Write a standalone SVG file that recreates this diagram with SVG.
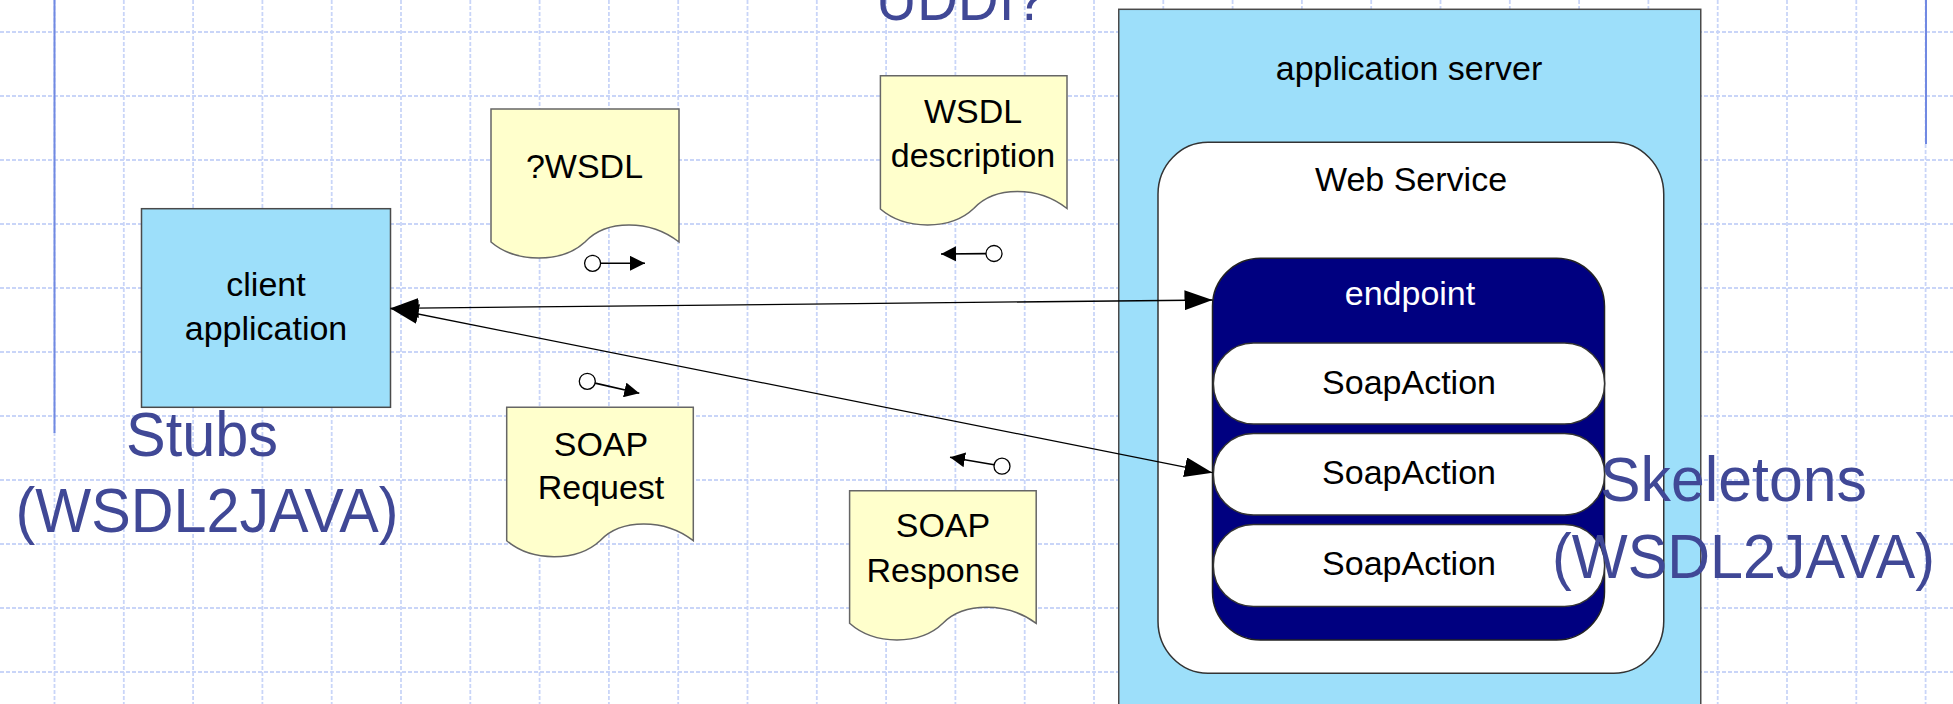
<svg xmlns="http://www.w3.org/2000/svg" width="1953" height="704" viewBox="0 0 1953 704">
<defs>
<style>
.grid line{stroke:#c9d5f8;stroke-width:1.8;stroke-dasharray:4 2}
.rail{stroke:#7189e2;stroke-width:2}
.box{fill:#9ddffa;stroke:#4a4a4a;stroke-width:1.5}
.white{fill:#ffffff;stroke:#333333;stroke-width:1.5}
.navy{fill:#000080;stroke:#222222;stroke-width:1.5}
.doc{fill:#ffffcc;stroke:#666666;stroke-width:1.5}
.lbl{font-family:"Liberation Sans",Arial,sans-serif;font-size:34px;fill:#000000;text-anchor:middle}
.wlbl{font-family:"Liberation Sans",Arial,sans-serif;font-size:34px;fill:#ffffff;text-anchor:middle}
.big{font-family:"Liberation Sans",Arial,sans-serif;font-size:63px;fill:#404896}
.conn{stroke:#000000;stroke-width:1.3;fill:none}
.flow{stroke:#000000;stroke-width:1.6;fill:none}
.dot{fill:#ffffff;stroke:#000000;stroke-width:1.3}
</style>
<marker id="arrBig" markerUnits="userSpaceOnUse" markerWidth="28" markerHeight="20" refX="28" refY="10" orient="auto-start-reverse" viewBox="0 0 28 20">
<path d="M0,0 L28,10 L0,20 Z" fill="#000000"/>
</marker>
<marker id="arrSmall" markerUnits="userSpaceOnUse" markerWidth="15" markerHeight="15" refX="15" refY="7.5" orient="auto" viewBox="0 0 15 15">
<path d="M0,0 L15,7.5 L0,15 Z" fill="#000000"/>
</marker>
</defs>
<rect x="0" y="0" width="1953" height="704" fill="#ffffff"/>
<g id="grid" class="grid">
<line x1="0" y1="32" x2="1953" y2="32"/>
<line x1="0" y1="96" x2="1953" y2="96"/>
<line x1="0" y1="160" x2="1953" y2="160"/>
<line x1="0" y1="224" x2="1953" y2="224"/>
<line x1="0" y1="288" x2="1953" y2="288"/>
<line x1="0" y1="352" x2="1953" y2="352"/>
<line x1="0" y1="416" x2="1953" y2="416"/>
<line x1="0" y1="480" x2="1953" y2="480"/>
<line x1="0" y1="544" x2="1953" y2="544"/>
<line x1="0" y1="608" x2="1953" y2="608"/>
<line x1="0" y1="672" x2="1953" y2="672"/>
<line x1="54.5" y1="0" x2="54.5" y2="704"/>
<line x1="123.8" y1="0" x2="123.8" y2="704"/>
<line x1="193.1" y1="0" x2="193.1" y2="704"/>
<line x1="262.4" y1="0" x2="262.4" y2="704"/>
<line x1="331.7" y1="0" x2="331.7" y2="704"/>
<line x1="401" y1="0" x2="401" y2="704"/>
<line x1="470.3" y1="0" x2="470.3" y2="704"/>
<line x1="539.6" y1="0" x2="539.6" y2="704"/>
<line x1="608.9" y1="0" x2="608.9" y2="704"/>
<line x1="678.2" y1="0" x2="678.2" y2="704"/>
<line x1="747.5" y1="0" x2="747.5" y2="704"/>
<line x1="816.8" y1="0" x2="816.8" y2="704"/>
<line x1="886.1" y1="0" x2="886.1" y2="704"/>
<line x1="955.4" y1="0" x2="955.4" y2="704"/>
<line x1="1024.7" y1="0" x2="1024.7" y2="704"/>
<line x1="1094" y1="0" x2="1094" y2="704"/>
<line x1="1163.3" y1="0" x2="1163.3" y2="704"/>
<line x1="1232.6" y1="0" x2="1232.6" y2="704"/>
<line x1="1301.9" y1="0" x2="1301.9" y2="704"/>
<line x1="1371.2" y1="0" x2="1371.2" y2="704"/>
<line x1="1440.5" y1="0" x2="1440.5" y2="704"/>
<line x1="1509.8" y1="0" x2="1509.8" y2="704"/>
<line x1="1579.1" y1="0" x2="1579.1" y2="704"/>
<line x1="1648.4" y1="0" x2="1648.4" y2="704"/>
<line x1="1717.7" y1="0" x2="1717.7" y2="704"/>
<line x1="1787" y1="0" x2="1787" y2="704"/>
<line x1="1856.3" y1="0" x2="1856.3" y2="704"/>
<line x1="1925.6" y1="0" x2="1925.6" y2="704"/>
</g>
<line class="rail" x1="54.5" y1="0" x2="54.5" y2="433"/>
<line class="rail" x1="1926" y1="0" x2="1926" y2="144"/>

<g id="app-server">
<rect class="box" x="1118.75" y="9.3" width="582" height="720"/>
<text class="lbl" x="1409" y="80">application server</text>
</g>
<g id="web-service">
<rect class="white" x="1158" y="142.3" width="505.75" height="531" rx="50" ry="52"/>
<text class="lbl" x="1411" y="190.7">Web Service</text>
</g>
<g id="endpoint">
<rect class="navy" x="1212.5" y="258.3" width="392" height="381.7" rx="48" ry="48"/>
<text class="wlbl" x="1410" y="305">endpoint</text>
</g>
<g id="soapaction-1">
<rect class="white" x="1213.4" y="343" width="391.2" height="81" rx="40" ry="40"/>
<text class="lbl" x="1409" y="394.3">SoapAction</text>
</g>
<g id="soapaction-2">
<rect class="white" x="1213.4" y="433.5" width="391.2" height="81.5" rx="40" ry="40"/>
<text class="lbl" x="1409" y="484.3">SoapAction</text>
</g>
<g id="soapaction-3">
<rect class="white" x="1213.4" y="524.5" width="391.2" height="82" rx="40" ry="40"/>
<text class="lbl" x="1409" y="575.3">SoapAction</text>
</g>

<g id="client-application">
<rect class="box" x="141.5" y="208.7" width="249" height="198.6"/>
<text class="lbl" x="266" y="296">client</text>
<text class="lbl" x="266" y="340">application</text>
</g>

<g id="doc-wsdl-query">
<path class="doc" d="M491,109 H679 V242 C650,219.3 606,219.3 585,242 C562,263.3 516,263.3 491,242 Z"/>
<text class="lbl" x="584.5" y="178.3">?WSDL</text>
</g>
<g id="doc-wsdl-description">
<path class="doc" d="M880.4,75.7 H1067 V208.5 C1038.3,185.8 994.6,185.8 973.7,208.5 C950.9,230.3 905.2,230.3 880.4,209 Z"/>
<text class="lbl" x="973" y="122.7">WSDL</text>
<text class="lbl" x="973" y="166.7">description</text>
</g>
<g id="doc-soap-request">
<path class="doc" d="M506.7,407.3 H693.3 V540.7 C664.6,518.4 620.9,518.4 600,540.7 C577.2,562 531.5,562 506.7,540.7 Z"/>
<text class="lbl" x="601" y="456">SOAP</text>
<text class="lbl" x="601" y="499.3">Request</text>
</g>
<g id="doc-soap-response">
<path class="doc" d="M849.6,490.7 H1036.2 V623.3 C1007.5,602 963.8,602 942.9,623.3 C920.1,645.5 874.4,645.5 849.6,623.3 Z"/>
<text class="lbl" x="943" y="536.7">SOAP</text>
<text class="lbl" x="943" y="582.3">Response</text>
</g>

<g id="connectors">
<path class="conn" d="M390.6,308.3 L1212.5,300" marker-start="url(#arrBig)" marker-end="url(#arrBig)"/>
<path class="conn" d="M390.6,308.5 L1212.5,472.7" marker-start="url(#arrBig)" marker-end="url(#arrBig)"/>
<path class="flow" d="M600.6,263.3 L645,263.3" marker-end="url(#arrSmall)"/>
<circle class="dot" cx="592.6" cy="263.3" r="8"/>
<path class="flow" d="M986,253.6 L941,254" marker-end="url(#arrSmall)"/>
<circle class="dot" cx="994" cy="253.5" r="8"/>
<path class="flow" d="M595.1,383.1 L639.3,393.3" marker-end="url(#arrSmall)"/>
<circle class="dot" cx="587.3" cy="381.3" r="8"/>
<path class="flow" d="M994.1,464.8 L950,457.3" marker-end="url(#arrSmall)"/>
<circle class="dot" cx="1002" cy="466.2" r="8"/>
</g>

<g id="labels">
<text class="big" x="876" y="20" textLength="170" lengthAdjust="spacingAndGlyphs">UDDI?</text>
<text class="big" x="126" y="456" textLength="152" lengthAdjust="spacingAndGlyphs">Stubs</text>
<text class="big" x="15.6" y="531.7" textLength="383" lengthAdjust="spacingAndGlyphs">(WSDL2JAVA)</text>
<text class="big" x="1600" y="500.7" textLength="267" lengthAdjust="spacingAndGlyphs">Skeletons</text>
<text class="big" x="1552" y="577.7" textLength="383" lengthAdjust="spacingAndGlyphs">(WSDL2JAVA)</text>
</g>
</svg>
